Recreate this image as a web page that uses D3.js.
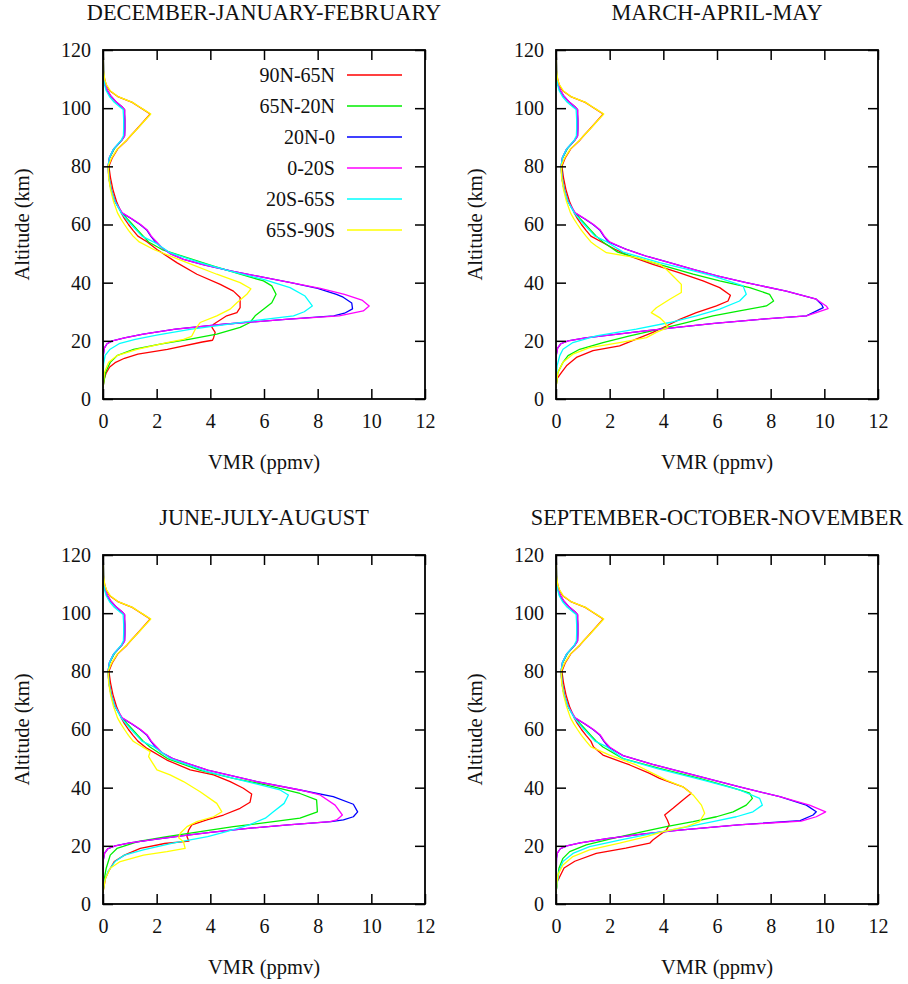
<!DOCTYPE html>
<html><head><meta charset="utf-8">
<script src="https://cdn.jsdelivr.net/npm/d3@7"></script>
<style>
body{margin:0;background:#fff}
svg text{font-family:"Liberation Serif","Times New Roman",serif;fill:#111}
</style>
</head><body>
<svg id="c" width="908" height="984"></svg>
<script>
// ---------- labels ----------
const seasons = ["DECEMBER-JANUARY-FEBRUARY","MARCH-APRIL-MAY","JUNE-JULY-AUGUST","SEPTEMBER-OCTOBER-NOVEMBER"];
const regions = ["90N-65N","65N-20N","20N-0","0-20S","20S-65S","65S-90S"];
const colors  = ["#ff0000","#00ee00","#0000ff","#ff00ff","#00ffff","#ffff00"];
const xTicks = [0,2,4,6,8,10,12];
const yTicks = [0,20,40,60,80,100,120];
const xTitle = "VMR (ppmv)";
const yTitle = "Altitude (km)";

// ---------- upper atmosphere (common to all seasons), VMR at upperAlt ----------
const upperAlt    = [56,58,60,62,64,68,72,76,80,83,86,89,90.5,93,96,98,99.5,100.5,102,104,106,108,110,113,120];
const upper90N65N = [1.3,1.12,0.95,0.8,0.68,0.5,0.37,0.28,0.22,0.35,0.55,0.89,1.03,1.28,1.57,1.76,1.51,1.34,1.09,0.55,0.25,0.12,0.06,0.02,0.01];
const upper65N20N = [1.5,1.3,1.1,0.9,0.7,0.45,0.31,0.23,0.2,0.25,0.42,0.7,0.8,0.81,0.81,0.8,0.8,0.7,0.5,0.3,0.16,0.08,0.04,0.02,0.01];
const upper20N0   = [1.78,1.64,1.38,1.06,0.7,0.44,0.3,0.22,0.19,0.24,0.4,0.7,0.8,0.81,0.81,0.8,0.8,0.7,0.5,0.3,0.16,0.08,0.04,0.02,0.01];
const upper020S   = [1.8,1.66,1.4,1.08,0.72,0.45,0.3,0.22,0.19,0.24,0.4,0.7,0.81,0.82,0.82,0.81,0.81,0.71,0.51,0.31,0.17,0.09,0.04,0.02,0.01];
const upper20S65S = [1.45,1.25,1.05,0.85,0.68,0.44,0.3,0.22,0.19,0.24,0.4,0.68,0.76,0.77,0.77,0.76,0.75,0.62,0.42,0.24,0.12,0.06,0.03,0.02,0.01];
const upper65S90S = [1.12,0.95,0.8,0.66,0.54,0.39,0.28,0.21,0.19,0.33,0.54,0.88,1.03,1.29,1.58,1.78,1.52,1.35,1.1,0.56,0.27,0.13,0.06,0.02,0.01];

// ---------- lower atmosphere per season: [altitude km, VMR ppmv] ----------
const djf90N65N = [[4,0],[7,0.05],[9,0.12],[11,0.25],[12.5,0.45],[14,0.8],[15.4,1.3],[17.1,2.4],[19.6,3.7],[20.2,4.08],[21,4.12],[22.9,4.18],[24.6,4.06],[25.7,4.12],[28.6,4.61],[29.7,4.99],[31.4,5.11],[34.9,5.11],[37.1,4.86],[39.4,4.37],[42.9,3.5],[46.9,2.75],[51.4,2.01],[54,1.65]];
const djf65N20N = [[4,0],[9,0.09],[12.6,0.27],[14.9,0.52],[17.1,1.14],[18.9,2.13],[20.6,3.25],[22.3,4.24],[24.6,5.11],[26.3,5.48],[28.6,5.67],[30.9,5.98],[33.1,6.29],[36,6.45],[38.9,6.29],[40.6,5.98],[42.9,5.11],[45.7,4.12],[48.6,3.13],[51.4,2.2],[54,1.7]];
const djf20N0   = [[4,0],[15,0.01],[17.5,0.05],[19,0.15],[20,0.35],[21,0.8],[22.3,1.5],[24,2.7],[25.7,4.5],[27.4,6.8],[28.6,8.6],[29.5,9.0],[31,9.3],[33,9.27],[35,8.95],[36,8.7],[38,8.0],[40,7.0],[42,5.9],[44,4.8],[46,3.8],[48,3.0],[50,2.5],[52,2.2],[54,1.95]];
const djf020S   = [[4,0],[15,0.01],[17.5,0.05],[19,0.15],[20,0.35],[21,0.8],[22.3,1.5],[24,2.7],[25.7,4.5],[27.4,6.8],[28.6,8.8],[30.3,9.7],[32,9.92],[34,9.65],[36,9.0],[38,8.1],[40,7.0],[42,5.9],[44,4.8],[46,3.8],[48,3.0],[50,2.5],[52,2.2],[54,2.0]];
const djf20S65S = [[4,0],[12,0.02],[15,0.08],[17,0.25],[19,0.6],[20.5,1.2],[22,2.0],[24,3.3],[25.5,4.5],[27,5.7],[28.6,7.1],[30,7.5],[32,7.8],[35.4,7.53],[38.3,6.97],[41.1,5.98],[44,4.74],[46.9,3.62],[50.3,2.5],[53.7,1.95]];
const djf65S90S = [[4,0],[9,0.05],[12.6,0.21],[14.9,0.52],[17.1,1.27],[19.4,2.38],[20.5,3.0],[21.5,3.3],[24,3.44],[26.3,3.62],[28.6,4.24],[30.9,4.74],[33.1,4.99],[36,5.36],[37.9,5.51],[40,5.11],[42.9,4.24],[46.9,3.13],[51.4,1.89],[54,1.35]];

const mam90N65N = [[4,0],[7,0.04],[9.1,0.2],[11.4,0.39],[14.3,0.76],[16.6,1.38],[18.3,2.37],[20.6,2.99],[22.9,3.61],[25.1,4.11],[27.4,4.61],[29.7,5.23],[32,5.98],[33.7,6.41],[35.7,6.5],[38.3,6.1],[40.6,5.48],[43.4,4.61],[46.3,3.61],[49.1,2.75],[51.5,2.2],[54,1.7]];
const mam65N20N = [[4,0],[9.1,0.07],[12.6,0.26],[14.9,0.45],[17.1,0.88],[19.4,1.75],[21.7,2.75],[24,3.86],[26.3,4.86],[28.6,5.85],[30.3,6.84],[32,7.84],[33.7,8.11],[36,7.96],[38.3,7.22],[40.6,6.1],[42.9,5.11],[46.9,3.61],[50.5,2.3],[54,1.75]];
const mam20N0   = [[4,0],[15,0.01],[17.5,0.06],[19,0.18],[20,0.45],[21,1.1],[22.3,2.3],[23.5,3.4],[24.6,4.5],[26,5.9],[27.4,7.6],[28.6,9.33],[29.7,9.58],[31.4,9.96],[32.5,9.9],[34.3,9.7],[37.1,8.58],[40,7.09],[42.3,6.0],[44.6,5.11],[47,4.2],[49,3.4],[51.5,2.6],[54,1.95]];
const mam020S   = [[4,0],[15,0.01],[17.5,0.06],[19,0.18],[20,0.45],[21,1.1],[22.3,2.3],[23.5,3.4],[24.6,4.5],[26,5.9],[27.4,7.6],[28.6,9.33],[29.7,9.7],[31.1,10.14],[32,10.07],[34.3,9.7],[37.1,8.58],[40,7.09],[42.3,6.0],[44.6,5.11],[47,4.2],[49,3.4],[51.5,2.6],[54,2.0]];
const mam20S65S = [[4,0],[11.4,0.04],[14.9,0.14],[17.1,0.26],[19.4,0.63],[21.7,1.5],[24,2.99],[26.3,4.24],[28.6,5.23],[30.9,6.1],[33.7,6.84],[36,7.09],[38.9,6.97],[42.3,5.85],[44.6,4.9],[46.9,3.86],[50.5,2.5],[54,1.9]];
const mam65S90S = [[4,0],[9.1,0.07],[12.6,0.26],[15.4,0.63],[17.7,1.25],[19.4,2.37],[21.1,3.37],[22.9,3.74],[24.6,4.17],[26.3,4.05],[28,3.86],[29.7,3.55],[31.4,3.74],[34.3,4.24],[36.6,4.67],[39.4,4.67],[42.3,4.36],[44.6,4.11],[46.3,3.86],[48.6,2.99],[50.3,1.88],[52.6,1.5],[54,1.3]];

const jja90N65N = [[4,0],[8.8,0.09],[11.1,0.2],[14.6,0.42],[16.8,0.8],[19.1,1.39],[20.8,2.3],[21.6,3.2],[23.2,3.13],[25.4,3.19],[27.2,3.31],[28.9,3.87],[30.6,4.49],[32.9,5.11],[35,5.48],[37.8,5.54],[39.8,5.23],[42.1,4.74],[44.4,4.12],[46.1,3.25],[49.5,2.38],[53.5,1.64]];
const jja65N20N = [[4,0],[8.8,0.05],[12.3,0.12],[16.8,0.27],[19.1,0.52],[21.4,1.27],[23.2,2.38],[24.9,3.62],[26.6,4.86],[28.3,6.35],[29.5,7.34],[31.7,7.99],[35.8,7.96],[38,7.34],[40.9,6.1],[43.2,4.86],[46,3.6],[50,2.4],[54,1.75]];
const jja20N0   = [[4,0],[15,0.01],[17.5,0.06],[19,0.18],[20,0.45],[21,1.0],[22.3,2.0],[23.5,3.0],[24.6,4.0],[26,5.4],[27.2,6.9],[28.3,8.5],[28.9,8.96],[30,9.33],[31.7,9.49],[34.3,9.33],[36.9,8.58],[39.2,7.34],[42.1,5.73],[46,3.9],[50,2.6],[52,2.2],[54,1.95]];
const jja020S   = [[4,0],[15,0.01],[17.5,0.06],[19,0.18],[20,0.45],[21,1.0],[22.3,2.0],[23.5,3.0],[24.6,4.0],[26,5.4],[27.2,6.9],[28.3,8.46],[28.9,8.71],[30.6,8.92],[34,8.65],[37.5,8.09],[39.2,7.34],[42.1,5.73],[46,3.9],[50,2.6],[52,2.2],[54,2.0]];
const jja20S65S = [[4,0],[7.7,0.05],[11.1,0.18],[14.6,0.45],[16.8,0.8],[18.6,1.5],[20.9,2.6],[23.2,3.9],[24.9,4.6],[27.2,5.45],[29.5,6.05],[31.7,6.35],[34.6,6.75],[37.5,6.91],[39.2,6.6],[42.1,5.36],[45.5,3.87],[50,2.5],[54,1.9]];
const jja65S90S = [[4,0],[8.8,0.09],[12.3,0.27],[14.6,0.64],[16.8,1.51],[18,2.38],[19.1,3.06],[21.4,3.0],[22.8,2.82],[24.3,2.88],[26.6,3.13],[28.3,3.5],[30,4.12],[31.7,4.43],[34.6,4.24],[38.6,3.62],[42.1,3.0],[44.4,2.5],[46.1,2.01],[48.9,1.82],[50.7,1.7],[52.4,1.76],[55.2,1.26]];

const son90N65N = [[4,0],[7.8,0.05],[9,0.12],[12.4,0.3],[14.7,0.7],[17.4,1.5],[19.2,2.6],[20.9,3.49],[22,3.61],[23.7,3.86],[25.4,4.11],[27.2,4.22],[28.9,4.15],[30.6,4.05],[32.9,4.36],[35.8,4.73],[38.1,5.04],[40.3,4.73],[43.2,3.86],[44.9,3.49],[47.8,2.75],[51.2,1.75],[54,1.4]];
const son65N20N = [[4,0],[12.3,0.11],[15.7,0.26],[18,0.51],[20.3,1.13],[22.6,2.12],[24.9,3.24],[26.6,4.11],[28.3,5.11],[30,5.98],[31.7,6.6],[34,7.09],[36.3,7.32],[38.1,7.22],[40.3,6.47],[43.2,5.35],[46.6,3.86],[50,2.5],[54,1.75]];
const son20N0   = [[4,0],[15.7,0.02],[17.5,0.05],[19,0.16],[20,0.4],[21,0.9],[22.5,1.9],[24,3.2],[25.4,4.6],[27.2,6.8],[28.7,9.1],[30.6,9.58],[31.7,9.7],[34,9.33],[36.9,8.34],[40.3,6.84],[44.4,5.11],[48,3.6],[51,2.5],[54,1.95]];
const son020S   = [[4,0],[15.7,0.02],[17.5,0.05],[19,0.16],[20,0.4],[21,0.9],[22.5,1.9],[24,3.2],[25.4,4.6],[27.2,6.8],[28.5,9.14],[30,9.7],[31.7,10.05],[34,9.45],[36.9,8.34],[40.3,6.84],[44.4,5.11],[48,3.6],[51,2.5],[54,2.0]];
const son20S65S = [[4,0],[11.1,0.11],[14.6,0.26],[17.4,0.63],[19.7,1.25],[22,2.37],[24.3,3.61],[26,4.61],[28.3,5.85],[30,6.72],[31.7,7.34],[34,7.69],[36.3,7.59],[39.2,6.84],[42.6,5.48],[46.6,3.74],[50,2.5],[54,1.9]];
const son65S90S = [[4,0],[10,0.07],[13.4,0.26],[16.3,0.63],[18.6,1.25],[20.9,2.37],[23.2,3.37],[24.9,3.99],[26.6,4.86],[28.3,5.35],[31.2,5.54],[34,5.42],[37.5,5.11],[40.3,4.73],[42.6,4.11],[44.9,3.61],[47.8,2.99],[51.2,2.0],[54,1.3]];

const uppers = [upper90N65N, upper65N20N, upper20N0, upper020S, upper20S65S, upper65S90S];
const lowers = [
  [djf90N65N, djf65N20N, djf20N0, djf020S, djf20S65S, djf65S90S],
  [mam90N65N, mam65N20N, mam20N0, mam020S, mam20S65S, mam65S90S],
  [jja90N65N, jja65N20N, jja20N0, jja020S, jja20S65S, jja65S90S],
  [son90N65N, son65N20N, son20N0, son020S, son20S65S, son65S90S]
];

// ---------- drawing ----------
const panelPos = [[103,50],[556,50],[103,555],[556,555]];
const W = 322, H = 349;
const svg = d3.select("#c");
const FS = 20, FT = 22.3, FA = 20.5;

lowers.forEach((seasonSeries, si) => {
  const [px, py] = panelPos[si];
  const g = svg.append("g").attr("transform", `translate(${px},${py})`);
  const x = d3.scaleLinear().domain([0,12]).range([0,W]);
  const y = d3.scaleLinear().domain([0,120]).range([H,0]);

  g.append("clipPath").attr("id","clip"+si).append("rect").attr("width",W).attr("height",H);

  const line = d3.line().x(d => x(d[1])).y(d => y(d[0]));
  const lg = g.append("g").attr("clip-path", `url(#clip${si})`);
  seasonSeries.forEach((low, ri) => {
    const pts = low.concat(upperAlt.map((a, k) => [a, uppers[ri][k]]));
    lg.append("path").attr("d", line(pts))
      .attr("fill","none").attr("stroke", colors[ri]).attr("stroke-width",1.3)
      .attr("stroke-linejoin","round");
  });

  const ax = [
    g.append("g").attr("transform",`translate(0,${H})`).call(d3.axisBottom(x).tickValues(xTicks).tickSizeInner(-10).tickSizeOuter(0).tickPadding(15)),
    g.append("g").call(d3.axisLeft(y).tickValues(yTicks).tickSizeInner(-10).tickSizeOuter(0).tickPadding(12)),
    g.append("g").call(d3.axisTop(x).tickValues(xTicks).tickSizeInner(-10).tickSizeOuter(0).tickFormat("")),
    g.append("g").attr("transform",`translate(${W},0)`).call(d3.axisRight(y).tickValues(yTicks).tickSizeInner(-10).tickSizeOuter(0).tickFormat(""))
  ];
  ax.forEach(a => {
    a.select(".domain").remove();
    a.selectAll("line").attr("stroke","#000").attr("stroke-width",1.5);
    a.selectAll("text").attr("font-size",FS).attr("font-family","Liberation Serif").attr("fill","#111");
  });

  g.append("rect").attr("width",W).attr("height",H).attr("fill","none").attr("stroke","#000").attr("stroke-width",1.8);

  g.append("text").attr("x",W/2).attr("y",-30).attr("text-anchor","middle").attr("font-size",FT).text(seasons[si]);
  g.append("text").attr("x",W/2).attr("y",H+70).attr("text-anchor","middle").attr("font-size",FA).text(xTitle);
  g.append("text").attr("transform",`translate(-81,${H/2}) rotate(-90)`).attr("dy","0.35em")
    .attr("text-anchor","middle").attr("font-size",FA).text(yTitle);

  if (si === 0) {
    const leg = g.append("g");
    regions.forEach((r, ri) => {
      const yy = 25 + ri*31;
      leg.append("text").attr("x",232).attr("y",yy).attr("dy","0.35em").attr("text-anchor","end").attr("font-size",FS).text(r);
      leg.append("line").attr("x1",244).attr("x2",299).attr("y1",yy).attr("y2",yy)
        .attr("stroke",colors[ri]).attr("stroke-width",1.3);
    });
  }
});
</script>
</body></html>
